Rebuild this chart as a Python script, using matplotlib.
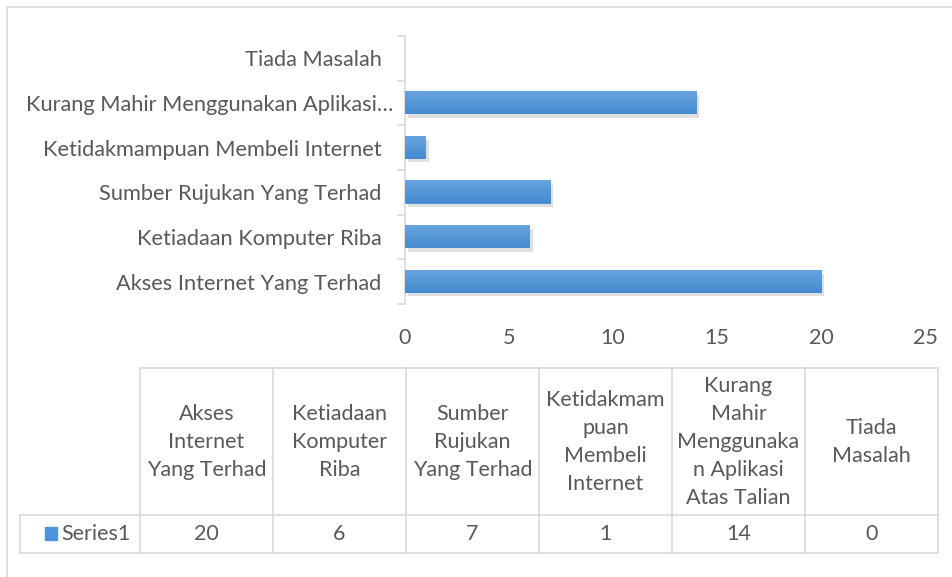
import matplotlib

matplotlib.use("Agg")
import matplotlib.colors as mcolors
import matplotlib.patches as mpatches
import matplotlib.patheffects as pe
import matplotlib.pyplot as plt
import matplotlib.transforms as mtransforms
import numpy as np
from matplotlib.lines import Line2D

categories = [
    "Akses Internet Yang Terhad",
    "Ketiadaan Komputer Riba",
    "Sumber Rujukan Yang Terhad",
    "Ketidakmampuan Membeli Internet",
    "Kurang Mahir Menggunakan Aplikasi…",
    "Tiada Masalah",
]
table_headers = [
    "Akses\nInternet\nYang Terhad",
    "Ketiadaan\nKomputer\nRiba",
    "Sumber\nRujukan\nYang Terhad",
    "Ketidakmam\npuan\nMembeli\nInternet",
    "Kurang\nMahir\nMenggunaka\nn Aplikasi\nAtas Talian",
    "Tiada\nMasalah",
]
series_name = "Series1"
values = [20, 6, 7, 1, 14, 0]
x_ticks = [0, 5, 10, 15, 20, 25]

W, H = 953, 577
TEXT = "#595959"
GRID = "#d9d9d9"
BAR = "#4f92d8"
bar_cmap = mcolors.LinearSegmentedColormap.from_list("bar", ["#448bd0", "#67a4dd"])

plt.rcParams["font.family"] = ["Lato", "DejaVu Sans"]

fig = plt.figure(figsize=(W / 100, H / 100), dpi=100)


def fx(px):
    return px / W


def fy(py):
    return 1 - py / H


# outer chart frame
fig.add_artist(mpatches.Rectangle((fx(7), -0.1), 1.2, fy(7) + 0.1,
                                  transform=fig.transFigure, fill=False,
                                  edgecolor=GRID, lw=1.2))

ax = fig.add_axes([fx(405), fy(304), fx(925) - fx(405), fy(36) - fy(304)])
ypos = list(range(len(categories)))
bh = 0.5
bars = ax.barh(ypos, values, height=bh, color=BAR,
               path_effects=[pe.SimplePatchShadow(offset=(2, -2.5), alpha=0.18,
                                                  shadow_rgbFace="#555555"),
                             pe.Normal()])
grad = np.linspace(0, 1, 64).reshape(-1, 1)
for y, v in zip(ypos, values):
    if v > 0:
        ax.imshow(grad, cmap=bar_cmap, origin="lower", aspect="auto",
                  extent=[0, v, y - bh / 2, y + bh / 2], zorder=3)
ax.set_xlim(0, 25)
ax.set_ylim(-0.5, len(categories) - 0.5)
ax.set_yticks(ypos)
ax.set_yticklabels(categories)
ax.set_yticks([y - 0.5 for y in range(len(categories) + 1)], minor=True)
ax.tick_params(axis="y", which="major", length=0, pad=17, labelsize=15.7, labelcolor=TEXT)
ax.tick_params(axis="y", which="minor", length=6, color=GRID, width=1.2)
ax.set_xticks(x_ticks)
ax.tick_params(axis="x", length=0, pad=17, labelsize=15.5, labelcolor=TEXT)
for s in ["top", "right", "bottom"]:
    ax.spines[s].set_visible(False)
ax.spines["left"].set_color(GRID)
ax.spines["left"].set_linewidth(1.2)
# the truncated label sits a bit further right
lbl = ax.get_yticklabels()[4]
lbl.set_transform(lbl.get_transform() +
                  mtransforms.ScaledTranslation(12 / 100, 0, fig.dpi_scale_trans))

# data table
col_x = [140, 273, 406, 539, 672, 805, 938]
top, mid, bot = 368, 515, 553
lines = [
    ((col_x[0], col_x[-1]), (top, top)),
    ((20, col_x[-1]), (mid, mid)),
    ((20, col_x[-1]), (bot, bot)),
    ((20, 20), (mid, bot)),
]
for x in col_x:
    lines.append(((x, x), (top, bot)))
for xs, ys in lines:
    fig.add_artist(Line2D([fx(v) for v in xs], [fy(v) for v in ys],
                          color=GRID, lw=1.2, transform=fig.transFigure))

for i, (hdr, val) in enumerate(zip(table_headers, values)):
    cx = (col_x[i] + col_x[i + 1]) / 2
    fig.text(fx(cx), fy((top + mid) / 2), hdr, ha="center", va="center",
             fontsize=15.5, color=TEXT, linespacing=1.5)
    fig.text(fx(cx), fy((mid + bot) / 2), str(val), ha="center", va="center",
             fontsize=15.5, color=TEXT)

fig.add_artist(mpatches.Rectangle((fx(45), fy(540)), fx(12), fy(527) - fy(540),
                                  transform=fig.transFigure, color=BAR))
fig.text(fx(61), fy((mid + bot) / 2), series_name, ha="left", va="center",
         fontsize=15.5, color=TEXT)

fig.savefig("out.png", dpi=100)
